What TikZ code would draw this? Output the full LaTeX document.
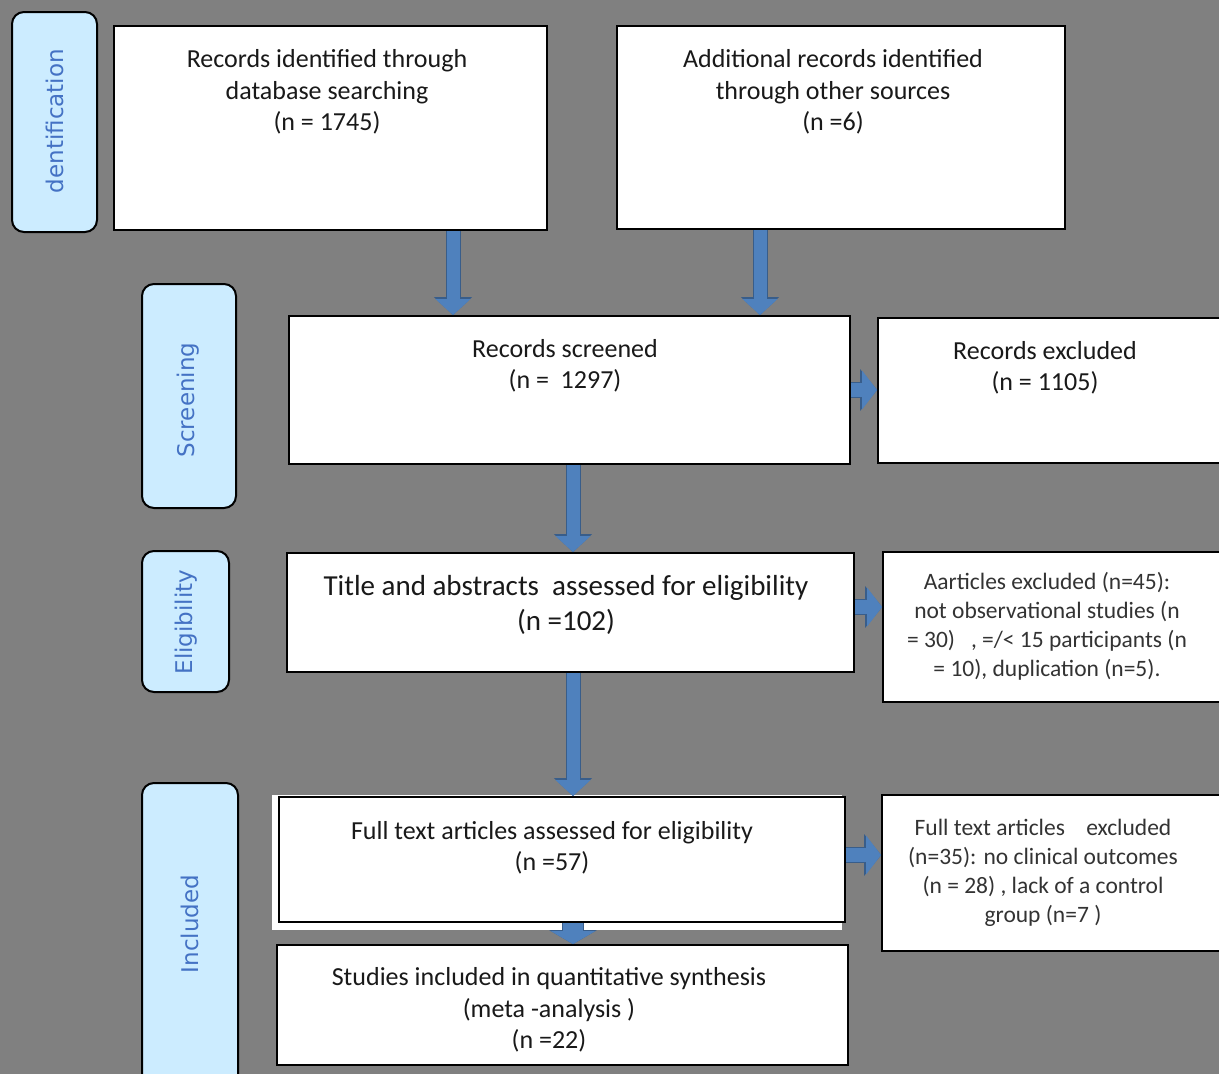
\documentclass[tikz,border=0pt]{standalone}
\usepackage{fontspec}
\setmainfont{Carlito}
\newfontfamily\labfont{DejaVu Sans}
\usetikzlibrary{arrows.meta}
\definecolor{bg}{RGB}{128,128,128}
\definecolor{labfill}{RGB}{204,236,255}
\definecolor{labtext}{RGB}{68,114,196}
\definecolor{arrowfill}{RGB}{79,129,189}
\definecolor{arrowedge}{RGB}{56,93,138}
\begin{document}
\begin{tikzpicture}[x=1pt,y=-1pt,
 box/.style={draw=black, line width=1.8pt, fill=white, inner sep=0pt},
 stage/.style={draw=black, line width=2pt, fill=labfill, rounded corners=12pt, inner sep=0pt},
 stagetext/.style={font=\labfont\fontsize{23}{28}\selectfont, text=labtext, rotate=90},
 maintext/.style={font=\fontsize{26}{31.5}\selectfont, align=center, text=black!90},
 titletext/.style={font=\fontsize{29}{35}\selectfont, align=center, text=black!90},
 sidetext/.style={font=\fontsize{23.5}{29}\selectfont, align=center, text=black!80},
 barrow/.style={draw=arrowfill, line width=13pt, -{Triangle[width=34pt,length=16pt]},
   preaction={draw=arrowedge, line width=15pt, -{Triangle[width=37pt,length=18pt]}}},
 sarrow/.style={draw=arrowfill, line width=14pt, -{Triangle[width=38pt,length=15pt]},
   preaction={draw=arrowedge, line width=16pt, -{Triangle[width=41pt,length=17pt]}}},
 barrowfat/.style={draw=arrowfill, line width=20pt, -{Triangle[width=44pt,length=13pt]},
   preaction={draw=arrowedge, line width=22pt, -{Triangle[width=47pt,length=14pt]}}},
]
\useasboundingbox (0,0) rectangle (1219,1074);
\clip (0,0) rectangle (1219,1074);
\fill[bg] (0,0) rectangle (1219,1074);

% stage labels
\node[stage, minimum width=85pt, minimum height=220pt] (identL) at (54.5,122) {};
\node[stage, minimum width=94pt, minimum height=224pt] (scrL) at (189,396) {};
\node[stage, minimum width=87pt, minimum height=141pt] (eligL) at (185.5,621.5) {};
\node[stage, minimum width=96pt, minimum height=312pt] (inclL) at (190,939) {};
\node[stagetext] (identT) at (55,121) {dentification};
\node[stagetext] (scrT) at (188,400) {Screening};
\node[stagetext] (eligT) at (186,622) {Eligibility};
\node[stagetext] (inclT) at (190,924) {Included};

% boxes
\node[box, minimum width=433pt, minimum height=204pt] (A) at (330.5,128) {};
\node[box, minimum width=448pt, minimum height=203pt] (B) at (841,127.5) {};
\node[box, minimum width=561pt, minimum height=148pt] (scr) at (569.5,390) {};
\node[box, minimum width=346pt, minimum height=145pt] (excl) at (1051,390.5) {};
\node[box, minimum width=567pt, minimum height=119pt] (title) at (570.5,612.5) {};
\node[box, minimum width=341pt, minimum height=150pt] (artx) at (1053.5,627) {};
\node[fill=white, inner sep=0pt, minimum width=570pt, minimum height=135pt] (fullbg) at (557,862.5) {};
\node[box, minimum width=566pt, minimum height=125pt] (full) at (562,859.5) {};
\node[box, minimum width=571pt, minimum height=120pt] (stud) at (562.5,1005) {};
\node[box, minimum width=342pt, minimum height=156pt] (ftx) at (1053,873) {};

% texts
\node[maintext] (Atext) at (327,92) {Records identified through\\database searching\\(n = 1745)};
\node[maintext] (Btext) at (833,92) {Additional records identified\\through other sources\\(n =6)};
\node[maintext] (scrtext) at (565,366) {Records screened\\(n =\ \ 1297)};
\node[maintext] (excltext) at (1045,368) {Records excluded\\(n = 1105)};
\node[titletext] (titletxt) at (566,605) {Title and abstracts\ \ assessed for eligibility\\(n =102)};
\node[sidetext] (artxtext) at (1047,626) {Aarticles excluded (n=45):\\not observational studies (n\\= 30)\ \ \ , =/< 15 participants (n\\= 10), duplication (n=5).};
\node[maintext] (fulltext) at (552,848) {Full text articles assessed for eligibility\\(n =57)};
\node[maintext] (studtext) at (549,1010) {Studies included in quantitative synthesis\\(meta -analysis )\\(n =22)};
\node[sidetext] (ftxtext) at (1043,873) {Full text articles\ \ \ \ excluded\\(n=35): no clinical outcomes\\(n = 28) , lack of a control\\group (n=7 )};

% arrow guide coordinates
\coordinate (xa) at (453,0);
\coordinate (xb) at (760,0);
\coordinate (xc) at (573,0);
\coordinate (ya) at (0,390);
\coordinate (yb) at (0,607);
\coordinate (yc) at (0,855);

% arrows
\draw[barrow] (A.south -| xa) -- (scr.north -| xa);
\draw[barrow] (B.south -| xb) -- (scr.north -| xb);
\draw[barrow] (scr.south -| xc) -- (title.north -| xc);
\draw[barrow] (title.south -| xc) -- (full.north -| xc);
\draw[barrowfat] (full.south -| xc) -- (stud.north -| xc);
\draw[sarrow] (scr.east |- ya) -- (excl.west |- ya);
\draw[sarrow] (title.east |- yb) -- (artx.west |- yb);
\draw[sarrow] (full.east |- yc) -- (ftx.west |- yc);
\end{tikzpicture}
\end{document}
